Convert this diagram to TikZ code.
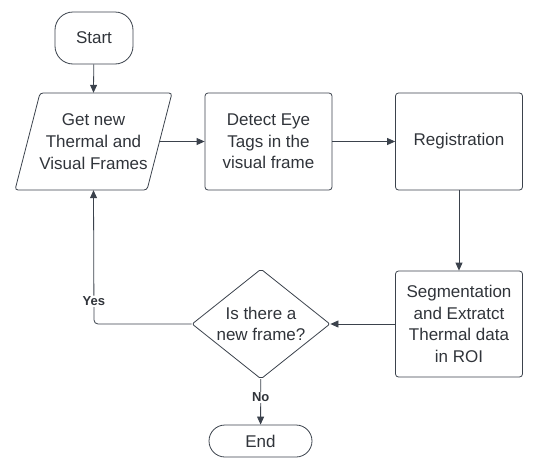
\documentclass[tikz,border=0pt]{standalone}
\usepackage{fontspec}
\setmainfont{Liberation Sans}
\usetikzlibrary{arrows.meta,shapes.geometric}
\definecolor{ln}{HTML}{3B424C}
\definecolor{tx}{HTML}{30343A}
\begin{document}
\begin{tikzpicture}[x=1pt,y=-1pt,
  every node/.style={text=tx,font=\fontsize{17}{21.7}\selectfont,align=center,inner sep=0pt},
  boxstyle/.style={draw=ln,line width=0.8pt,rounded corners=3pt,minimum width=127pt,minimum height=97pt},
  conn/.style={draw=ln,line width=0.8pt,-{Triangle[length=8pt,width=7pt]}},
  lbl/.style={font=\fontsize{13}{15}\selectfont\bfseries,fill=white,inner sep=1pt}]
\useasboundingbox (0,0) rectangle (533,458);
% Start
\node[draw=ln,line width=0.8pt,rounded corners=18pt,minimum width=78pt,minimum height=52pt] (start) at (94,38) {Start};
% parallelogram
\node[minimum width=133pt,minimum height=97pt] (gf) at (93.5,141.5) {Get new\\Thermal and\\Visual Frames};
\draw[ln,line width=0.8pt,rounded corners=3pt] (40,93) -- (172,93) -- (147,190) -- (15,190) -- cycle;
% boxes
\node[boxstyle] (det) at (268.5,141.5) {Detect Eye\\Tags in the\\visual frame};
\node[boxstyle] (reg) at (459,141.5) {Registration};
\node[boxstyle,minimum height=106pt] (seg) at (459,324) {Segmentation\\and Extratct\\Thermal data\\in ROI};
% diamond
\node[draw=ln,line width=0.8pt,diamond,aspect=1.255,minimum width=138pt,minimum height=110pt,rounded corners=2pt] (dec) at (261,324) {Is there a\\new frame?};
% End
\node[draw=ln,line width=0.8pt,rounded corners=16pt,minimum width=103pt,minimum height=32pt] (end) at (260.5,441) {End};
% connectors
\draw[conn] (start) -- (gf.north);
\draw[conn] (gf.east) -- (det);
\draw[conn] (det) -- (reg);
\draw[conn] (reg) -- (seg);
\draw[conn] (seg) -- (dec);
\draw[conn,rounded corners=4pt] (dec.west) -- (94,324) -- (gf.south) node[lbl,pos=0.17] {Yes};
\draw[conn] (dec) -- (end) node[lbl,pos=0.4] {No};
\end{tikzpicture}
\end{document}
